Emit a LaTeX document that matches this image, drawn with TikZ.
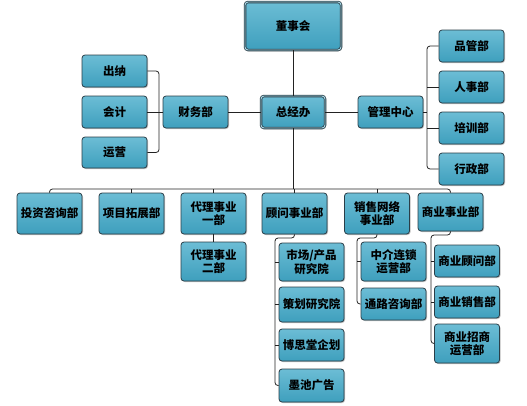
\documentclass[tikz,border=0pt]{standalone}
\usepackage{fontspec}
\setmainfont{Noto Sans CJK SC}
\usetikzlibrary{shadows}
\definecolor{boxtop}{HTML}{6CBDD5}
\definecolor{boxbot}{HTML}{3E9FBD}
\definecolor{boxline}{HTML}{2A3E48}
\definecolor{conn}{HTML}{222222}
\tikzset{
  box/.style={draw=boxline, line width=0.8pt, rounded corners=3pt,
    top color=boxtop, bottom color=boxbot, inner sep=0pt,
    minimum width=65pt, minimum height=32pt, align=center,
    font=\fontsize{11.5}{13.5}\selectfont\bfseries, text=black,
    drop shadow={shadow xshift=1pt, shadow yshift=-1pt, fill=black, opacity=0.25}},
  topbox/.style={box, double=boxtop!60!white, double distance=0.9pt},
  link/.style={draw=conn, line width=0.8pt, rounded corners=3pt}
}
\begin{document}
\begin{tikzpicture}[x=1pt,y=-1pt]
\useasboundingbox (0,0) rectangle (527,405);
% top level
\node[topbox, minimum width=96pt, minimum height=48pt] (dsh) at (293,26) {董事会};
\node[topbox, minimum width=64pt] (zjb) at (293,112) {总经办};
\node[box] (cw) at (195.5,112) {财务部};
\node[box] (gl) at (390.5,112) {管理中心};
\node[box] (cn) at (114.5,71) {出纳};
\node[box] (kj) at (114.5,112) {会计};
\node[box, minimum height=31pt] (yy) at (114.5,152.5) {运营};
\node[box] (pg) at (471.5,46) {品管部};
\node[box] (rs) at (471.5,87) {人事部};
\node[box] (px) at (471.5,128) {培训部};
\node[box] (xz) at (471.5,169) {行政部};
% second row
\node[box, minimum height=41pt] (tz) at (49.5,213.5) {投资咨询部};
\node[box, minimum height=41pt] (xm) at (131.5,213.5) {项目拓展部};
\node[box, minimum height=41pt] (dl1) at (213.5,213.5) {代理事业\\一部};
\node[box, minimum height=39pt] (dl2) at (213.5,261.5) {代理事业\\二部};
\node[box, minimum height=41pt] (gw) at (294.5,213.5) {顾问事业部};
\node[box, minimum height=41pt] (xs) at (377,213.5) {销售网络\\事业部};
\node[box, minimum height=38pt] (sy) at (450.5,212) {商业事业部};
% children
\node[box, minimum height=38pt] (sc) at (311.5,262) {市场/产品\\研究院};
\node[box, minimum height=35pt] (ch) at (311.5,304.5) {策划研究院};
\node[box, minimum height=32pt] (bs) at (311.5,345) {博思堂企划};
\node[box, minimum height=33pt] (mc) at (311.5,385.5) {墨池广告};
\node[box, minimum height=39pt] (zj) at (393.5,261.5) {中介连锁\\运营部};
\node[box, minimum height=32pt] (tl) at (393.5,304) {通路咨询部};
\node[box, minimum height=32pt] (sgw) at (467,261) {商业顾问部};
\node[box, minimum height=32pt] (sxs) at (467,302) {商业销售部};
\node[box, minimum height=39pt] (szs) at (467,343.5) {商业招商\\运营部};
% connectors
\coordinate (bus) at (293,189);
\draw[link] (dsh.south) -- (zjb.north);
\draw[link] (cw.east) -- (zjb.west);
\draw[link] (zjb.east) -- (gl.west);
\draw[link] (kj.east) -- (cw.west);
\draw[link] (cn.east) -- (159,71) -- (159,152.5) -- (yy.east);
\draw[link] (gl.east) -- (427,112);
\draw[link] (pg.west) -- (427,46) -- (427,169) -- (xz.west);
\draw[link] (rs.west) -- (427,87);
\draw[link] (px.west) -- (427,128);
\draw[link] (zjb.south) -- (bus);
\draw[link] (tz.north) -- (49.5,189) -- (450.5,189) -- (sy.north);
\draw[link] (xm.north) -- (131.5,189);
\draw[link] (dl1.north) -- (213.5,189);
\draw[link] (gw.north) -- (294.5,189);
\draw[link] (xs.north) -- (377,189);
\draw[link] (dl1.south) -- (dl2.north);
\draw[link] (gw.south) -- (294.5,238) -- (275,238) -- (275,385.5) -- (mc.west);
\draw[link] (sc.west) -- (275,262);
\draw[link] (ch.west) -- (275,304.5);
\draw[link] (bs.west) -- (275,345);
\draw[link] (xs.south) -- (377,238) -- (357,238) -- (357,304) -- (tl.west);
\draw[link] (zj.west) -- (357,261.5);
\draw[link] (sy.south) -- (450.5,235) -- (431,235) -- (431,343.5) -- (szs.west);
\draw[link] (sgw.west) -- (431,261);
\draw[link] (sxs.west) -- (431,302);
\end{tikzpicture}
\end{document}
